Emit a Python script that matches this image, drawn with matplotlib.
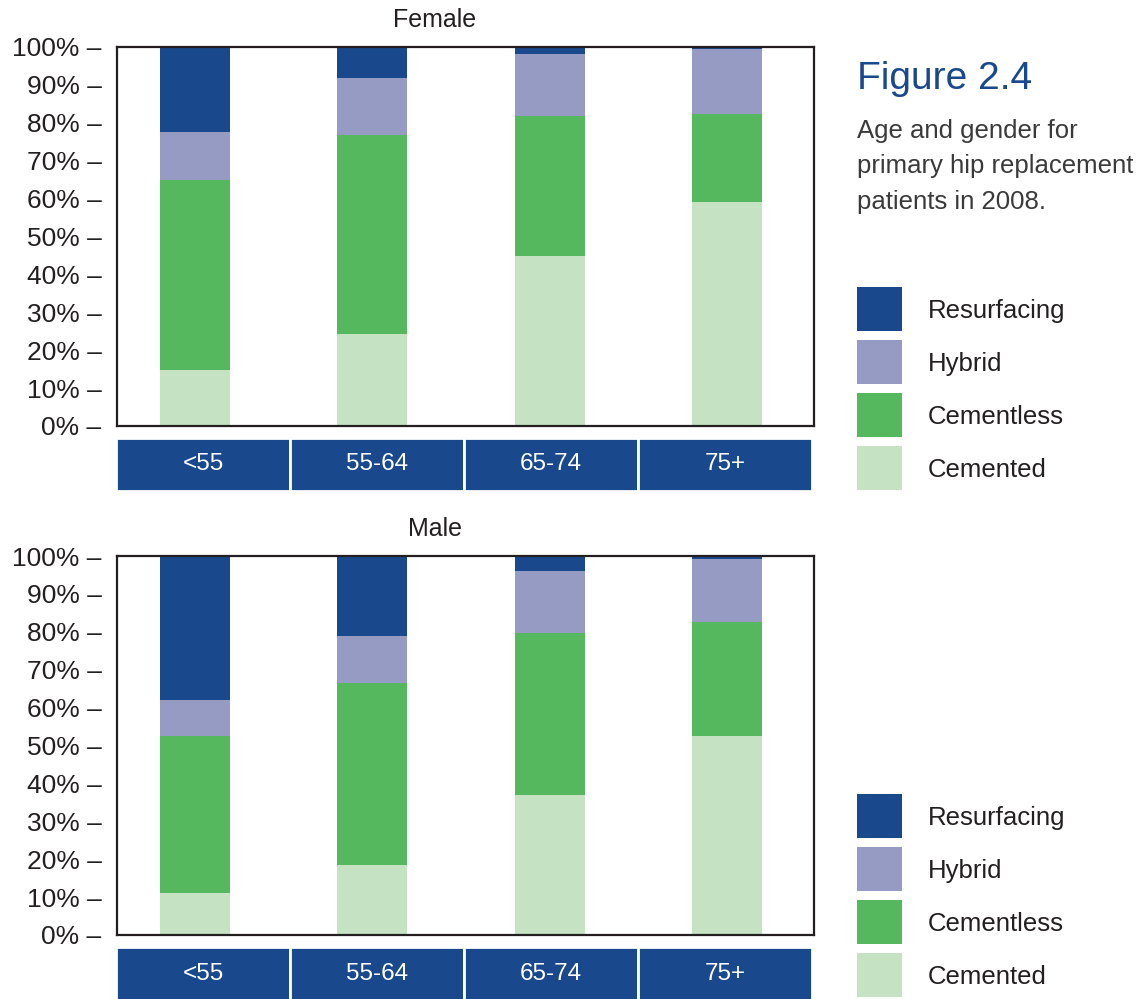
import matplotlib
matplotlib.use("Agg")
from matplotlib import pyplot as plt
from matplotlib.patches import Rectangle

plt.rcParams["font.family"] = ["Liberation Sans", "DejaVu Sans"]

age_groups = ["<55", "55-64", "65-74", "75+"]
fixations = ["Cemented", "Cementless", "Hybrid", "Resurfacing"]
colours = {
    "Cemented": "#c5e3c3",
    "Cementless": "#55b85e",
    "Hybrid": "#959bc2",
    "Resurfacing": "#19498c",
}

# percentage of patients per age group, stacked bottom to top
female_cemented = [14.8, 24.3, 44.9, 59.1]
female_cementless = [50.1, 52.5, 36.9, 23.2]
female_hybrid = [12.7, 15.0, 16.4, 17.2]
female_resurfacing = [22.4, 8.2, 1.8, 0.5]

male_cemented = [11.1, 18.5, 36.9, 52.4]
male_cementless = [41.4, 47.9, 42.8, 30.3]
male_hybrid = [9.5, 12.5, 16.3, 16.5]
male_resurfacing = [38.0, 21.1, 4.0, 0.8]

yticks = list(range(0, 101, 10))

BLUE = "#19498c"
INK = "#231f20"
W, H = 1146, 999


def fbox(x0, y0, x1, y1):
    # pixel box (top-left origin) -> figure fraction rect
    return [x0 / W, 1 - y1 / H, (x1 - x0) / W, (y1 - y0) / H]


def draw_panel(fig, top, title, series):
    ax = fig.add_axes(fbox(117, top, 814, top + 379))
    x = range(len(age_groups))
    bottom = [0] * len(age_groups)
    for name, vals in zip(fixations, series):
        ax.bar(x, vals, bottom=bottom, width=0.395, color=colours[name], linewidth=0)
        bottom = [b + v for b, v in zip(bottom, vals)]
    ax.set_xlim(-0.44, 3.49)
    ax.set_ylim(0, 100)
    ax.set_xticks([])
    ax.set_yticks(yticks)
    ax.set_yticklabels([f"{t}% \u2013" for t in yticks], fontsize=19, color=INK)
    ax.tick_params(axis="y", length=0, pad=11)
    for s in ax.spines.values():
        s.set_color(INK)
        s.set_linewidth(1.6)
    fig.text(435 / W, 1 - (top - 27) / H, title, ha="center", va="center",
             fontsize=18, color=INK)

    # age group strip below the plot
    strip = fig.add_axes(fbox(116, top + 391, 812, top + 444))
    strip.bar([i + 0.5 for i in x], [1] * len(age_groups), width=1,
              color=BLUE, edgecolor="white", linewidth=2)
    for i, lab in enumerate(age_groups):
        strip.text(i + 0.5, 0.5, lab, ha="center", va="center",
                   fontsize=17.5, color="white")
    strip.set_xlim(0, 4)
    strip.set_ylim(0, 1)
    strip.axis("off")


def draw_legend(fig, top):
    for i, name in enumerate(reversed(fixations)):
        y0 = top + i * 53
        fig.patches.append(Rectangle((857 / W, 1 - (y0 + 44) / H), 45 / W, 44 / H,
                                     transform=fig.transFigure,
                                     facecolor=colours[name], edgecolor="none"))
        fig.text(928 / W, 1 - (y0 + 31) / H, name, ha="left", va="baseline",
                 fontsize=18.5, color=INK)


fig = plt.figure(figsize=(W / 100, H / 100), dpi=100)

draw_panel(fig, 47, "Female",
           [female_cemented, female_cementless, female_hybrid, female_resurfacing])
draw_panel(fig, 556, "Male",
           [male_cemented, male_cementless, male_hybrid, male_resurfacing])

fig.text(857 / W, 1 - 89 / H, "Figure 2.4", ha="left", va="baseline",
         fontsize=28, color=BLUE)
for line, base in zip(["Age and gender for", "primary hip replacement",
                       "patients in 2008."], [138, 173, 209]):
    fig.text(857 / W, 1 - base / H, line, ha="left", va="baseline",
             fontsize=18.5, color="#3a3a3a")

draw_legend(fig, 287)
draw_legend(fig, 794)

fig.savefig("out.png", dpi=100)
